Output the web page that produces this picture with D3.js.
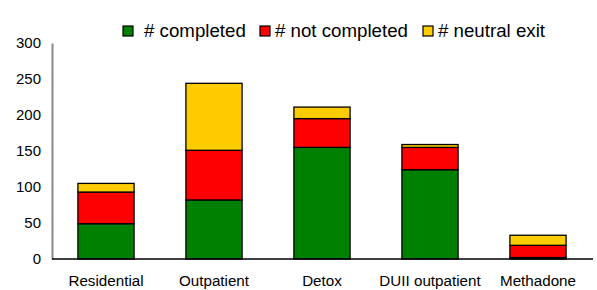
<!DOCTYPE html>
<html>
<head>
<meta charset="utf-8">
<script src="https://cdn.jsdelivr.net/npm/d3@7"></script>
<style>
  body { margin: 0; background: #fff; }
  svg { display: block; font-family: "Liberation Sans", Arial, sans-serif; }
</style>
</head>
<body>
<svg id="chart" width="597" height="290"></svg>
<script>
const categories = ["Residential", "Outpatient", "Detox", "DUII outpatient", "Methadone"];
const completed = [49, 82, 155, 124, 2];
const notCompleted = [44, 69, 40, 31, 17];
const neutralExit = [12, 93, 16, 4, 14];
const seriesNames = ["# completed", "# not completed", "# neutral exit"];
const yTicks = [0, 50, 100, 150, 200, 250, 300];

const colors = ["#008000", "#ff0000", "#ffcc00"];
const keys = ["completed", "notCompleted", "neutralExit"];

const width = 597, height = 290;
const margin = { left: 52, right: 5, top: 43, bottom: 31 };

const rows = categories.map((c, i) => ({
  cat: c, completed: completed[i], notCompleted: notCompleted[i], neutralExit: neutralExit[i]
}));
const stackData = d3.stack().keys(keys)(rows);

const svg = d3.select("#chart");

const x = d3.scaleBand()
  .domain(categories)
  .range([margin.left, width - margin.right])
  .paddingInner(0.48)
  .paddingOuter(0.24);

const y = d3.scaleLinear()
  .domain([0, 300])
  .range([height - margin.bottom, margin.top]);

// bars
svg.append("g").selectAll("g")
  .data(stackData)
  .join("g")
  .attr("fill", (d, i) => colors[i])
  .selectAll("rect")
  .data(d => d)
  .join("rect")
  .attr("x", d => x(d.data.cat))
  .attr("y", d => y(d[1]))
  .attr("width", x.bandwidth())
  .attr("height", d => y(d[0]) - y(d[1]))
  .attr("stroke", "#000")
  .attr("stroke-width", 1.3);

// y axis
const yAxis = svg.append("g")
  .attr("transform", `translate(${margin.left},0)`)
  .call(d3.axisLeft(y).tickValues(yTicks).tickSize(0).tickPadding(11));
yAxis.select(".domain").attr("stroke", "#888").attr("stroke-width", 2);
yAxis.selectAll("text").style("font-size", "15px").attr("fill", "#000")
  .attr("font-family", "Liberation Sans, Arial, sans-serif");

// x axis
const xAxis = svg.append("g")
  .attr("transform", `translate(0,${height - margin.bottom})`)
  .call(d3.axisBottom(x).tickSize(0).tickPadding(16));
xAxis.select(".domain").attr("stroke", "#000").attr("stroke-width", 1.5)
  .attr("d", `M${margin.left},0H${width - 4}`);
xAxis.selectAll("text").style("font-size", "15.2px").attr("fill", "#000")
  .attr("font-family", "Liberation Sans, Arial, sans-serif");

// legend
const legendX = [123, 260, 423];
const legend = svg.append("g");
legend.selectAll("rect").data(seriesNames).join("rect")
  .attr("x", (d, i) => legendX[i])
  .attr("y", 26)
  .attr("width", 10)
  .attr("height", 10)
  .attr("fill", (d, i) => colors[i])
  .attr("stroke", "#000")
  .attr("stroke-width", 1.2);
legend.selectAll("text").data(seriesNames).join("text")
  .attr("x", (d, i) => legendX[i] + (i === 0 ? 21 : 15))
  .attr("y", 37)
  .style("font-size", "18.7px")
  .text(d => d);
</script>
</body>
</html>
